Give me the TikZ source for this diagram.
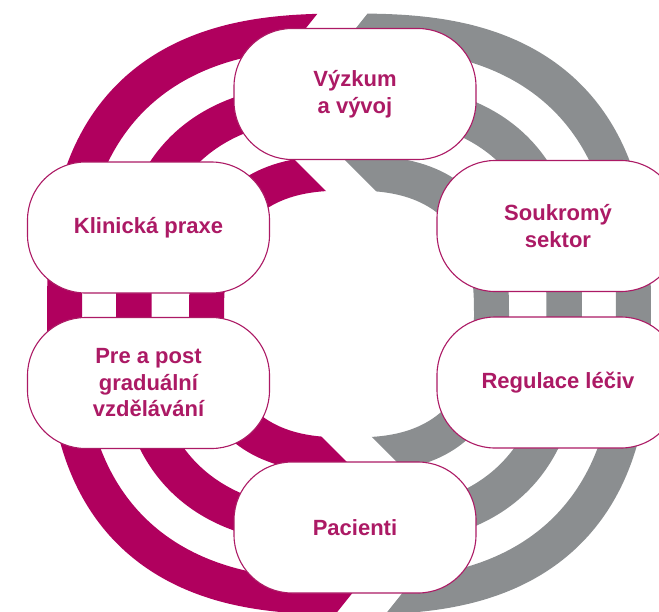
\documentclass[tikz,border=0pt]{standalone}
\usepackage{fontspec}
\setmainfont{Liberation Sans}
\definecolor{ringM}{HTML}{B0005E}
\definecolor{ringG}{HTML}{8B8E90}
\definecolor{txtM}{HTML}{AC1A65}
\tikzset{
  x=1pt, y=-1pt,
  pill/.style={draw=txtM, line width=1.1pt, fill=white, rounded corners=58pt,
    minimum width=242pt, minimum height=131pt, align=center, text=txtM,
    font=\fontsize{22}{26.5}\selectfont\bfseries, inner sep=0pt},
  sq/.style n args={2}{insert path={
    plot[domain=0.5:360.5, samples=361, variable=\t]
      ({349+#1*cos(\t)*abs(cos(\t))^(-0.2308)}, {314+#2*sin(\t)*abs(sin(\t))^(-0.2308)}) -- cycle}},
}
\begin{document}
\begin{tikzpicture}
\useasboundingbox (0,0) rectangle (659,611);
\clip (0,0) rectangle (659,611);
% outer ring
\begin{scope}
  \clip (-50,-50) -- (368.4,-50) -- (280.4,60) -- (300,300) -- (378.8,560) -- (266.8,700) -- (-50,700) -- cycle;
  \fill[ringM, even odd rule, sq={302}{300.5}, sq={267}{265.5}];
\end{scope}
\begin{scope}
  \clip (700,-50) -- (418.4,-50) -- (330.4,60) -- (350,300) -- (428.8,560) -- (316.8,700) -- (700,700) -- cycle;
  \fill[ringG, even odd rule, sq={302}{300.5}, sq={267}{265.5}];
\end{scope}
% middle ring
\begin{scope}
  \clip (-50,-50) rectangle (330,700);
  \fill[ringM, even odd rule, sq={233}{231.5}, sq={197.5}{196}];
\end{scope}
\begin{scope}
  \clip (380,-50) rectangle (700,700);
  \fill[ringG, even odd rule, sq={233}{231.5}, sq={197.5}{196}];
\end{scope}
% inner ring
\begin{scope}
  \clip (-50,-50) -- (265,-50) -- (265,130) -- (335,200) -- (305,420) -- (365,480) -- (365,700) -- (-50,700) -- cycle;
  \fill[ringM, even odd rule, sq={160}{158.5}, sq={125}{123.5}];
\end{scope}
\begin{scope}
  \clip (700,-50) -- (315,-50) -- (315,130) -- (385,200) -- (355,420) -- (415,480) -- (415,700) -- (700,700) -- cycle;
  \fill[ringG, even odd rule, sq={160}{158.5}, sq={125}{123.5}];
\end{scope}
% nodes
\node[pill] (vyzkum) at (355,94) {Výzkum\\a vývoj};
\node[pill] (soukromy) at (558,226) {Soukromý\\sektor};
\node[pill] (klinicka) at (148.5,227.5) {Klinická praxe};
\node[pill] (pre) at (148.5,383) {Pre a post\\graduální\\vzdělávání};
\node[pill] (regulace) at (558,382.5) {Regulace léčiv};
\node[pill] (pacienti) at (355,527.5) {Pacienti};
\end{tikzpicture}
\end{document}
